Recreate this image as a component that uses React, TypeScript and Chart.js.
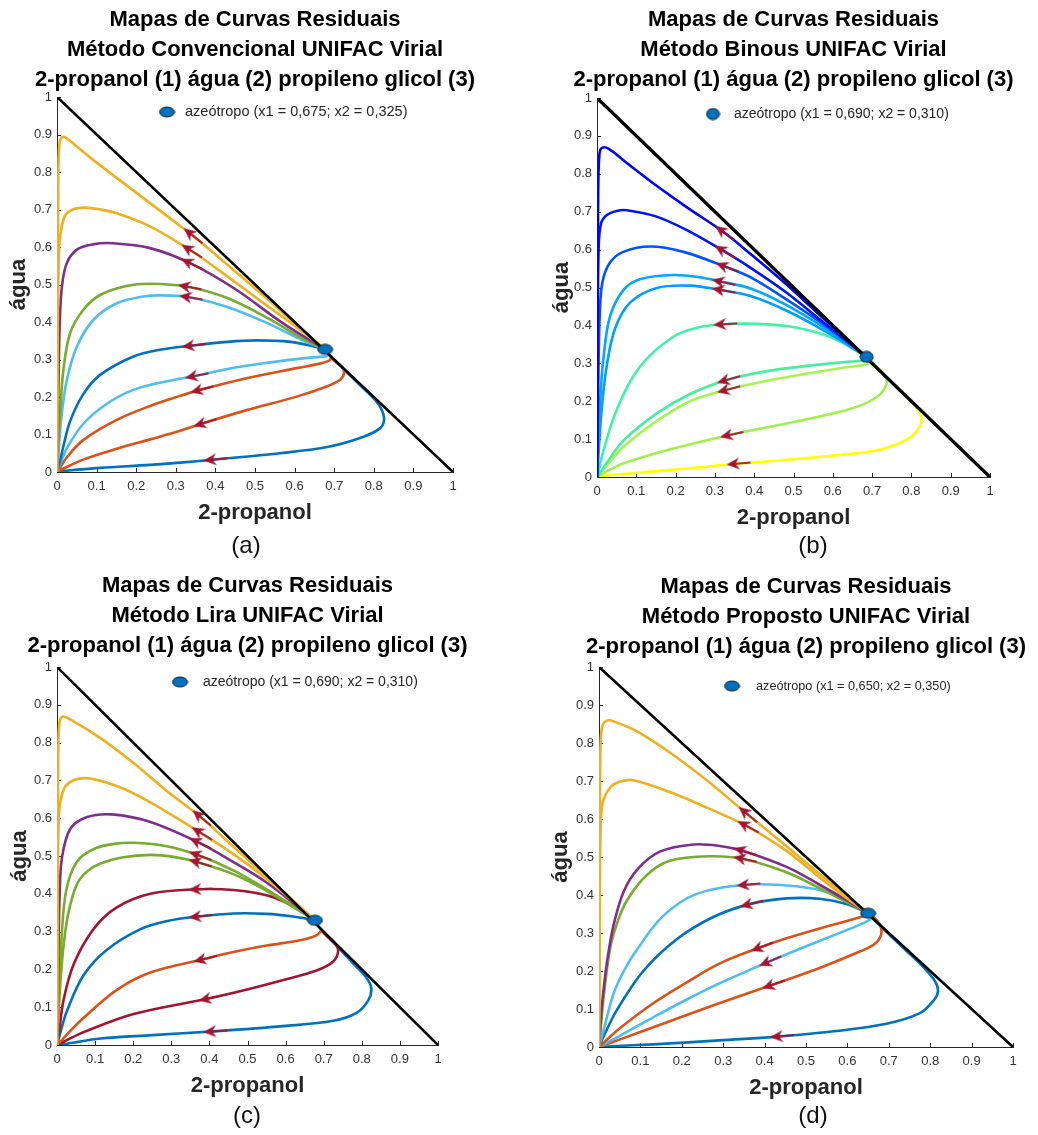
import React, { useEffect, useRef } from 'react';
import { Chart, registerables } from 'chart.js';

Chart.register(...registerables);

const FONT = "'Liberation Sans', Arial, Helvetica, sans-serif";
const TITLE_1 = 'Mapas de Curvas Residuais';
const TITLE_3 = '2-propanol (1) água (2) propileno glicol (3)';
const X_LABEL = '2-propanol';
const Y_LABEL = 'água';
const AXIS_MIN = 0;
const AXIS_MAX = 1;
const TICK_STEP = 0.1;
const boundary = [[0, 1], [1, 0]];

const BLUE = '#0072BD';
const ORANGE = '#D95319';
const YELLOW = '#EDB120';
const PURPLE = '#7E2F8E';
const GREEN = '#77AC30';
const LBLUE = '#4DBEEE';
const DRED = '#A2142F';
const AXIS_COLOR = '#262626';
const TICK_COLOR = '#333333';

// ---------------- Panel (a) : Método Convencional ----------------
const curveA1 = [[0,0],[0.001,0.2],[0.002,0.5],[0.003,0.75],[0.005,0.86],[0.01,0.89],[0.02,0.893],[0.05,0.868],[0.1,0.825],[0.2,0.745],[0.3,0.665],[0.34,0.633],[0.4,0.58],[0.5,0.49],[0.6,0.397],[0.677,0.327]];
const curveA2 = [[0,0],[0.001,0.2],[0.002,0.4],[0.004,0.55],[0.008,0.63],[0.02,0.683],[0.04,0.7],[0.071,0.705],[0.11,0.7],[0.151,0.69],[0.235,0.655],[0.336,0.592],[0.4,0.545],[0.5,0.467],[0.6,0.39],[0.677,0.327]];
const curveA3 = [[0,0],[0.002,0.1],[0.004,0.25],[0.007,0.4],[0.012,0.49],[0.024,0.555],[0.05,0.593],[0.09,0.607],[0.142,0.61],[0.235,0.597],[0.336,0.557],[0.45,0.488],[0.57,0.397],[0.677,0.327]];
const curveA4 = [[0,0],[0.003,0.06],[0.008,0.16],[0.016,0.27],[0.033,0.37],[0.066,0.432],[0.109,0.472],[0.175,0.496],[0.235,0.502],[0.33,0.494],[0.43,0.464],[0.531,0.411],[0.615,0.359],[0.677,0.327]];
const curveA5 = [[0,0],[0.004,0.055],[0.012,0.155],[0.025,0.246],[0.05,0.334],[0.092,0.406],[0.151,0.45],[0.218,0.468],[0.26,0.471],[0.333,0.466],[0.43,0.44],[0.531,0.397],[0.615,0.354],[0.677,0.327]];
const curveA6 = [[0,0],[0.006,0.022],[0.016,0.068],[0.033,0.135],[0.066,0.207],[0.109,0.259],[0.193,0.308],[0.26,0.326],[0.34,0.337],[0.43,0.347],[0.505,0.351],[0.59,0.347],[0.649,0.335],[0.677,0.327]];
const curveA7 = [[0,0],[0.008,0.02],[0.024,0.062],[0.066,0.128],[0.126,0.182],[0.193,0.219],[0.277,0.242],[0.348,0.256],[0.437,0.276],[0.521,0.29],[0.605,0.301],[0.681,0.309]];
const curveA8 = [[0,0],[0.008,0.012],[0.024,0.038],[0.066,0.085],[0.151,0.139],[0.235,0.176],[0.311,0.203],[0.361,0.219],[0.479,0.25],[0.605,0.277],[0.664,0.289],[0.687,0.297],[0.693,0.305]];
const curveA9 = [[0,0],[0.01,0.006],[0.066,0.033],[0.151,0.062],[0.235,0.087],[0.311,0.11],[0.369,0.13],[0.479,0.165],[0.605,0.201],[0.681,0.228],[0.715,0.246],[0.725,0.264],[0.72,0.28],[0.706,0.292],[0.694,0.303]];
const curveA10 = [[0,0],[0.03,0.004],[0.109,0.011],[0.235,0.019],[0.311,0.025],[0.395,0.033],[0.563,0.05],[0.689,0.068],[0.774,0.094],[0.816,0.117],[0.826,0.139],[0.82,0.166],[0.803,0.193],[0.765,0.232],[0.728,0.27],[0.7,0.298],[0.685,0.314]];
const colorsA = [YELLOW, YELLOW, PURPLE, GREEN, LBLUE, BLUE, LBLUE, ORANGE, ORANGE, BLUE];
const arrowXA = [0.34, 0.336, 0.336, 0.33, 0.333, 0.34, 0.348, 0.361, 0.369, 0.395];
const azeoA = [0.677, 0.327];
const legendA = 'azeótropo (x1 = 0,675; x2 = 0,325)';

// ---------------- Panel (b) : Método Binous ----------------
const curveB1 = [[0,0],[0.001,0.2],[0.002,0.5],[0.003,0.75],[0.006,0.85],[0.012,0.868],[0.03,0.866],[0.08,0.825],[0.143,0.775],[0.228,0.712],[0.321,0.647],[0.389,0.59],[0.48,0.51],[0.58,0.415],[0.686,0.317]];
const curveB2 = [[0,0],[0.001,0.2],[0.002,0.45],[0.004,0.6],[0.01,0.668],[0.025,0.691],[0.05,0.702],[0.076,0.704],[0.152,0.687],[0.237,0.647],[0.321,0.597],[0.389,0.553],[0.48,0.488],[0.58,0.405],[0.686,0.317]];
const curveB3 = [[0,0],[0.002,0.15],[0.004,0.3],[0.007,0.43],[0.014,0.515],[0.033,0.566],[0.067,0.594],[0.135,0.608],[0.22,0.594],[0.326,0.555],[0.389,0.528],[0.48,0.47],[0.58,0.4],[0.686,0.317]];
const curveB4 = [[0,0],[0.003,0.08],[0.008,0.2],[0.016,0.31],[0.033,0.423],[0.067,0.493],[0.109,0.522],[0.194,0.533],[0.262,0.527],[0.317,0.515],[0.389,0.498],[0.48,0.455],[0.58,0.393],[0.686,0.317]];
const curveB5 = [[0,0],[0.004,0.065],[0.012,0.18],[0.025,0.295],[0.046,0.392],[0.084,0.46],[0.152,0.499],[0.237,0.505],[0.317,0.493],[0.389,0.478],[0.48,0.44],[0.58,0.385],[0.686,0.317]];
const curveB6 = [[0,0],[0.005,0.02],[0.016,0.068],[0.05,0.177],[0.109,0.291],[0.194,0.37],[0.26,0.395],[0.321,0.403],[0.406,0.404],[0.491,0.397],[0.57,0.378],[0.618,0.358],[0.686,0.317]];
const curveB7 = [[0,0],[0.01,0.015],[0.03,0.045],[0.067,0.096],[0.152,0.168],[0.237,0.219],[0.33,0.256],[0.449,0.282],[0.618,0.302],[0.69,0.308]];
const curveB8 = [[0,0],[0.01,0.012],[0.03,0.037],[0.067,0.08],[0.152,0.148],[0.237,0.2],[0.33,0.23],[0.449,0.257],[0.618,0.287],[0.68,0.296],[0.695,0.302]];
const curveB9 = [[0,0],[0.02,0.012],[0.067,0.036],[0.194,0.075],[0.338,0.111],[0.491,0.143],[0.618,0.172],[0.68,0.193],[0.72,0.218],[0.737,0.245],[0.735,0.262],[0.72,0.282],[0.705,0.293],[0.695,0.302]];
const curveB10 = [[0,0],[0.02,0.003],[0.067,0.008],[0.237,0.023],[0.355,0.035],[0.5,0.047],[0.618,0.058],[0.7,0.068],[0.745,0.08],[0.796,0.104],[0.822,0.135],[0.824,0.16],[0.809,0.188],[0.779,0.218],[0.74,0.258],[0.705,0.293],[0.686,0.314]];
const colorsB = ['#0000ff', '#0014f4', '#0052ff', '#00a8ff', '#00a0fa', '#40f2a6', '#46efa0', '#a6f450', '#a0f04c', '#ffff00'];
const arrowXB = [0.321, 0.321, 0.326, 0.317, 0.317, 0.321, 0.33, 0.33, 0.338, 0.355];
const azeoB = [0.686, 0.317];
const legendB = 'azeótropo (x1 = 0,690; x2 = 0,310)';

// ---------------- Panel (c) : Método Lira ----------------
const curveC1 = [[0,0],[0.001,0.2],[0.002,0.5],[0.003,0.75],[0.006,0.85],[0.013,0.868],[0.03,0.864],[0.114,0.812],[0.201,0.746],[0.288,0.672],[0.376,0.604],[0.463,0.525],[0.55,0.446],[0.62,0.382],[0.677,0.33]];
const curveC2 = [[0,0],[0.001,0.2],[0.002,0.45],[0.004,0.58],[0.009,0.645],[0.026,0.689],[0.074,0.706],[0.157,0.685],[0.245,0.642],[0.376,0.562],[0.463,0.505],[0.55,0.44],[0.62,0.38],[0.677,0.33]];
const curveC3 = [[0,0],[0.002,0.1],[0.004,0.25],[0.007,0.4],[0.013,0.495],[0.035,0.572],[0.079,0.603],[0.144,0.61],[0.245,0.59],[0.371,0.536],[0.463,0.484],[0.55,0.43],[0.62,0.375],[0.677,0.33]];
const curveC4 = [[0,0],[0.004,0.1],[0.008,0.2],[0.013,0.3],[0.021,0.39],[0.036,0.452],[0.06,0.494],[0.1,0.52],[0.15,0.532],[0.201,0.535],[0.288,0.526],[0.371,0.502],[0.463,0.462],[0.55,0.412],[0.62,0.368],[0.677,0.33]];
const curveC5 = [[0,0],[0.005,0.1],[0.01,0.18],[0.018,0.27],[0.03,0.35],[0.052,0.425],[0.08,0.46],[0.114,0.48],[0.17,0.496],[0.245,0.503],[0.31,0.497],[0.371,0.483],[0.463,0.452],[0.55,0.408],[0.62,0.365],[0.677,0.33]];
const curveC6 = [[0,0],[0.006,0.04],[0.017,0.118],[0.044,0.214],[0.096,0.307],[0.157,0.364],[0.245,0.4],[0.371,0.412],[0.463,0.41],[0.55,0.396],[0.62,0.367],[0.677,0.33]];
const curveC7 = [[0,0],[0.008,0.03],[0.026,0.09],[0.07,0.185],[0.131,0.252],[0.218,0.306],[0.29,0.328],[0.371,0.34],[0.463,0.348],[0.55,0.347],[0.62,0.34],[0.677,0.33]];
const curveC8 = [[0,0],[0.01,0.01],[0.03,0.032],[0.07,0.072],[0.157,0.146],[0.245,0.192],[0.384,0.227],[0.463,0.246],[0.55,0.263],[0.638,0.277],[0.681,0.29],[0.694,0.303]];
const curveC9 = [[0,0],[0.02,0.01],[0.07,0.034],[0.201,0.082],[0.397,0.123],[0.507,0.149],[0.594,0.172],[0.681,0.197],[0.725,0.221],[0.738,0.249],[0.729,0.27],[0.71,0.287],[0.694,0.303]];
const curveC10 = [[0,0],[0.03,0.004],[0.114,0.017],[0.25,0.026],[0.41,0.036],[0.594,0.05],[0.725,0.064],[0.786,0.085],[0.817,0.118],[0.825,0.15],[0.812,0.178],[0.777,0.216],[0.742,0.254],[0.712,0.285],[0.685,0.315]];
const colorsC = [YELLOW, YELLOW, PURPLE, GREEN, GREEN, DRED, BLUE, ORANGE, DRED, BLUE];
const arrowXC = [0.376, 0.376, 0.371, 0.371, 0.371, 0.371, 0.371, 0.384, 0.397, 0.41];
const azeoC = [0.677, 0.33];
const legendC = 'azeótropo (x1 = 0,690; x2 = 0,310)';

// ---------------- Panel (d) : Método Proposto ----------------
const curveD1 = [[0,0],[0.001,0.2],[0.002,0.5],[0.003,0.75],[0.007,0.84],[0.019,0.859],[0.04,0.855],[0.091,0.831],[0.171,0.775],[0.252,0.709],[0.356,0.615],[0.453,0.528],[0.533,0.455],[0.6,0.397],[0.65,0.352]];
const curveD2 = [[0,0],[0.001,0.2],[0.002,0.45],[0.004,0.58],[0.009,0.643],[0.027,0.683],[0.05,0.698],[0.083,0.702],[0.171,0.671],[0.252,0.634],[0.356,0.582],[0.453,0.516],[0.533,0.446],[0.6,0.39],[0.65,0.352]];
const curveD3 = [[0,0],[0.003,0.05],[0.008,0.12],[0.019,0.221],[0.035,0.32],[0.06,0.41],[0.095,0.47],[0.147,0.514],[0.228,0.533],[0.292,0.529],[0.348,0.516],[0.453,0.474],[0.533,0.427],[0.6,0.385],[0.65,0.352]];
const curveD4 = [[0,0],[0.005,0.06],[0.012,0.14],[0.027,0.26],[0.045,0.33],[0.067,0.385],[0.115,0.452],[0.171,0.49],[0.268,0.502],[0.348,0.495],[0.453,0.46],[0.533,0.418],[0.6,0.38],[0.65,0.352]];
const curveD5 = [[0,0],[0.01,0.04],[0.035,0.14],[0.06,0.2],[0.091,0.255],[0.155,0.345],[0.236,0.403],[0.356,0.427],[0.453,0.425],[0.533,0.413],[0.6,0.385],[0.65,0.352]];
const curveD6 = [[0,0],[0.012,0.03],[0.043,0.097],[0.107,0.2],[0.187,0.283],[0.276,0.342],[0.364,0.376],[0.453,0.391],[0.533,0.39],[0.598,0.376],[0.65,0.352]];
const curveD7 = [[0,0],[0.015,0.015],[0.051,0.05],[0.131,0.115],[0.212,0.17],[0.292,0.22],[0.389,0.262],[0.453,0.286],[0.533,0.312],[0.614,0.336],[0.648,0.347]];
const curveD8 = [[0,0],[0.015,0.009],[0.051,0.03],[0.131,0.078],[0.212,0.125],[0.292,0.168],[0.409,0.224],[0.493,0.262],[0.574,0.297],[0.63,0.322],[0.655,0.336],[0.66,0.345]];
const curveD9 = [[0,0],[0.015,0.006],[0.051,0.02],[0.171,0.068],[0.292,0.116],[0.417,0.163],[0.533,0.208],[0.614,0.244],[0.662,0.268],[0.68,0.291],[0.681,0.315],[0.67,0.335],[0.658,0.348]];
const curveD10 = [[0,0],[0.03,0.002],[0.131,0.007],[0.3,0.018],[0.437,0.028],[0.574,0.042],[0.694,0.061],[0.775,0.089],[0.81,0.125],[0.819,0.148],[0.811,0.174],[0.783,0.211],[0.734,0.262],[0.686,0.312],[0.655,0.345]];
const colorsD = [YELLOW, YELLOW, PURPLE, GREEN, LBLUE, BLUE, ORANGE, LBLUE, ORANGE, BLUE];
const arrowXD = [0.356, 0.356, 0.348, 0.348, 0.356, 0.364, 0.389, 0.409, 0.417, 0.437];
const azeoD = [0.65, 0.352];
const legendD = 'azeótropo (x1 = 0,650; x2 = 0,350)';

// ---------------- layout of the four panels ----------------
const panels = [
  { method: 'Método Convencional UNIFAC Virial', caption: '(a)', legend: legendA, azeo: azeoA,
    curves: [curveA1, curveA2, curveA3, curveA4, curveA5, curveA6, curveA7, curveA8, curveA9, curveA10],
    colors: colorsA, arrowsX: arrowXA,
    area: { l: 57, r: 453, t: 97, b: 472 }, canvasTop: 0, titlePadTop: 5, yTitlePad: 0.5,
    legendDx: 110, legendDy: 15, legendTextDx: 18, legendFont: 14.5, hypWidth: 2.6, markerW: 15, markerH: 10,
    captionX: 246, captionY: 545 },
  { method: 'Método Binous UNIFAC Virial', caption: '(b)', legend: legendB, azeo: azeoB,
    curves: [curveB1, curveB2, curveB3, curveB4, curveB5, curveB6, curveB7, curveB8, curveB9, curveB10],
    colors: colorsB, arrowsX: arrowXB,
    area: { l: 597, r: 990, t: 98, b: 477 }, canvasTop: 0, titlePadTop: 5, yTitlePad: 4,
    legendDx: 116, legendDy: 16, legendTextDx: 21, legendFont: 14, hypWidth: 3.4, markerW: 13, markerH: 11,
    captionX: 813, captionY: 545 },
  { method: 'Método Lira UNIFAC Virial', caption: '(c)', legend: legendC, azeo: azeoC,
    curves: [curveC1, curveC2, curveC3, curveC4, curveC5, curveC6, curveC7, curveC8, curveC9, curveC10],
    colors: colorsC, arrowsX: arrowXC,
    area: { l: 57, r: 438, t: 667, b: 1045 }, canvasTop: 566, titlePadTop: 5, yTitlePad: 2,
    legendDx: 123, legendDy: 15, legendTextDx: 23, legendFont: 14, hypWidth: 2.6, markerW: 15, markerH: 10,
    captionX: 247, captionY: 1115 },
  { method: 'Método Proposto UNIFAC Virial', caption: '(d)', legend: legendD, azeo: azeoD,
    curves: [curveD1, curveD2, curveD3, curveD4, curveD5, curveD6, curveD7, curveD8, curveD9, curveD10],
    colors: colorsD, arrowsX: arrowXD,
    area: { l: 599, r: 1013, t: 667, b: 1047 }, canvasTop: 567, titlePadTop: 5, yTitlePad: 0.5,
    legendDx: 133, legendDy: 19, legendTextDx: 24, legendFont: 12.7, hypWidth: 2.6, markerW: 15, markerH: 10,
    captionX: 813, captionY: 1115 },
];

const Y_BOX = 52;
const X_BOX = 60;

function makeEllipse(w: number, h: number) {
  const c = document.createElement('canvas');
  c.width = w + 2;
  c.height = h + 2;
  const g = c.getContext('2d')!;
  g.beginPath();
  g.ellipse((w + 2) / 2, (h + 2) / 2, w / 2, h / 2, 0, 0, Math.PI * 2);
  g.fillStyle = BLUE;
  g.fill();
  g.lineWidth = 1;
  g.strokeStyle = '#0b1a26';
  g.stroke();
  return c;
}

function makeArrow() {
  const c = document.createElement('canvas');
  c.width = 44;
  c.height = 44;
  const g = c.getContext('2d')!;
  g.strokeStyle = DRED;
  g.fillStyle = DRED;
  g.lineWidth = 1.8;
  g.beginPath();
  g.moveTo(8, 22);
  g.lineTo(24, 22);
  g.stroke();
  g.beginPath();
  g.moveTo(32, 22);
  g.lineTo(19, 16);
  g.lineTo(23, 22);
  g.lineTo(19, 28);
  g.closePath();
  g.fill();
  return c;
}

function nearestIndex(curve: number[][], x: number) {
  let best = 0;
  let bd = Infinity;
  curve.forEach((p, i) => {
    const d = Math.abs(p[0] - x);
    if (d < bd) { bd = d; best = i; }
  });
  return best;
}

const tickLabel = (v: any) => String(parseFloat(Number(v).toFixed(2)));

function Panel({ cfg }: { cfg: any }) {
  const ref = useRef<HTMLCanvasElement>(null);
  const cw = cfg.area.r - cfg.area.l + 2 * Y_BOX;
  const ch = Math.round(cfg.area.b + X_BOX - cfg.canvasTop);
  const titlePadBottom = cfg.area.t - cfg.canvasTop - cfg.titlePadTop - 90;

  useEffect(() => {
    const ellipse = makeEllipse(cfg.markerW, cfg.markerH);
    const legendEllipse = makeEllipse(cfg.markerW, cfg.markerH);
    const arrow = makeArrow();
    const arrowIdx = cfg.curves.map((c: number[][], i: number) => nearestIndex(c, cfg.arrowsX[i]));
    const arrowPts = cfg.curves.map((c: number[][], i: number) => ({ x: c[arrowIdx[i]][0], y: c[arrowIdx[i]][1] }));

    const rot = (ctx: any) => {
      const chart = ctx.chart;
      const xs = chart.scales.x;
      const ys = chart.scales.y;
      const i = ctx.dataIndex;
      const curve = cfg.curves[i];
      const k = arrowIdx[i];
      const a = curve[Math.min(k + 1, curve.length - 1)];
      const b = curve[Math.max(k - 1, 0)];
      const dx = xs.getPixelForValue(b[0]) - xs.getPixelForValue(a[0]);
      const dy = ys.getPixelForValue(b[1]) - ys.getPixelForValue(a[1]);
      return (Math.atan2(dy, dx) * 180) / Math.PI;
    };

    const decor = {
      id: 'ternaryDecor',
      beforeDatasetsDraw(chart: any) {
        const { ctx, chartArea, scales } = chart;
        const xs = scales.x;
        const ys = scales.y;
        ctx.save();
        ctx.strokeStyle = AXIS_COLOR;
        ctx.lineWidth = 1;
        ctx.beginPath();
        xs.ticks.forEach((t: any) => {
          const px = Math.round(xs.getPixelForValue(t.value)) + 0.5;
          ctx.moveTo(px, chartArea.bottom);
          ctx.lineTo(px, chartArea.bottom - 4);
        });
        ys.ticks.forEach((t: any) => {
          const py = Math.round(ys.getPixelForValue(t.value)) + 0.5;
          ctx.moveTo(chartArea.left, py);
          ctx.lineTo(chartArea.left + 4, py);
        });
        ctx.stroke();
        ctx.restore();
      },
      afterDraw(chart: any) {
        const { ctx, chartArea } = chart;
        const mx = chartArea.left + cfg.legendDx;
        const my = chartArea.top + cfg.legendDy;
        ctx.save();
        ctx.drawImage(legendEllipse, mx - legendEllipse.width / 2, my - legendEllipse.height / 2);
        ctx.fillStyle = AXIS_COLOR;
        ctx.font = `${cfg.legendFont}px ${FONT}`;
        ctx.textBaseline = 'middle';
        ctx.textAlign = 'left';
        ctx.fillText(cfg.legend, mx + cfg.legendTextDx, my);
        ctx.restore();
      },
    };

    const datasets: any[] = [
      {
        label: 'azeótropo',
        data: [{ x: cfg.azeo[0], y: cfg.azeo[1] }],
        showLine: false,
        pointStyle: ellipse,
        pointRadius: 6,
        clip: false,
      },
      {
        label: 'setas',
        data: arrowPts,
        showLine: false,
        pointStyle: arrow,
        pointRadius: 6,
        pointRotation: rot,
        clip: false,
      },
      {
        label: 'fronteira',
        data: boundary.map((p) => ({ x: p[0], y: p[1] })),
        showLine: true,
        borderColor: '#000000',
        borderWidth: cfg.hypWidth,
        pointRadius: 0,
        borderCapStyle: 'round',
      },
      ...cfg.curves.map((c: number[][], i: number) => ({
        label: 'curva ' + (i + 1),
        data: c.map((p) => ({ x: p[0], y: p[1] })),
        showLine: true,
        borderColor: cfg.colors[i],
        borderWidth: 2.6,
        pointRadius: 0,
        tension: 0.35,
        borderCapStyle: 'round',
        borderJoinStyle: 'round',
      })),
    ];

    const chart = new Chart(ref.current!, {
      type: 'scatter',
      data: { datasets },
      options: {
        animation: false,
        responsive: false,
        devicePixelRatio: 1,
        locale: 'en-US',
        events: [],
        layout: { padding: 0 },
        plugins: {
          legend: { display: false },
          tooltip: { enabled: false },
          title: {
            display: true,
            text: [TITLE_1, cfg.method, TITLE_3],
            color: '#000000',
            font: { family: FONT, size: 22, weight: 'bold', lineHeight: '30px' },
            padding: { top: cfg.titlePadTop, bottom: titlePadBottom },
          },
        },
        scales: {
          x: {
            type: 'linear',
            position: 'bottom',
            min: AXIS_MIN,
            max: AXIS_MAX,
            ticks: { stepSize: TICK_STEP, padding: 7, color: TICK_COLOR, font: { family: FONT, size: 13 }, maxRotation: 0, autoSkip: false, callback: tickLabel },
            grid: { display: false, drawTicks: false },
            border: { display: true, color: AXIS_COLOR, width: 1 },
            title: { display: true, text: X_LABEL, color: AXIS_COLOR, font: { family: FONT, size: 22, weight: 'bold', lineHeight: 1.2 }, padding: { top: 0, bottom: 6.3 } },
            afterFit: (s: any) => { s.height = X_BOX; },
          },
          y: {
            type: 'linear',
            position: 'left',
            min: AXIS_MIN,
            max: AXIS_MAX,
            ticks: { stepSize: TICK_STEP, padding: 5, color: TICK_COLOR, font: { family: FONT, size: 13 }, autoSkip: false, callback: tickLabel },
            grid: { display: false, drawTicks: false },
            border: { display: true, color: AXIS_COLOR, width: 1 },
            title: { display: true, text: Y_LABEL, color: AXIS_COLOR, font: { family: FONT, size: 22, weight: 'bold', lineHeight: 1.2 }, padding: { top: cfg.yTitlePad, bottom: 0 } },
            afterFit: (s: any) => { s.width = Y_BOX; },
          },
          yr: {
            type: 'linear',
            position: 'right',
            min: AXIS_MIN,
            max: AXIS_MAX,
            ticks: { display: false },
            grid: { display: false, drawTicks: false },
            border: { display: false },
            title: { display: false },
            afterFit: (s: any) => { s.width = Y_BOX; },
          },
        },
      } as any,
      plugins: [decor],
    } as any);
    return () => chart.destroy();
  }, []);

  return (
    <canvas
      ref={ref}
      width={cw}
      height={ch}
      style={{ position: 'absolute', left: cfg.area.l - Y_BOX, top: cfg.canvasTop, width: cw, height: ch }}
    />
  );
}

export default function App() {
  return (
    <div style={{ position: 'absolute', left: 0, top: 0, width: 1038, height: 1135, overflow: 'hidden', background: '#ffffff' }}>
      {panels.map((p, i) => (
        <Panel key={i} cfg={p} />
      ))}
      {panels.map((p, i) => (
        <div
          key={'cap' + i}
          style={{
            position: 'absolute',
            left: p.captionX - 30,
            top: p.captionY - 14,
            width: 60,
            height: 28,
            lineHeight: '28px',
            textAlign: 'center',
            fontFamily: FONT,
            fontSize: 24,
            color: '#111111',
          }}
        >
          {p.caption}
        </div>
      ))}
    </div>
  );
}
